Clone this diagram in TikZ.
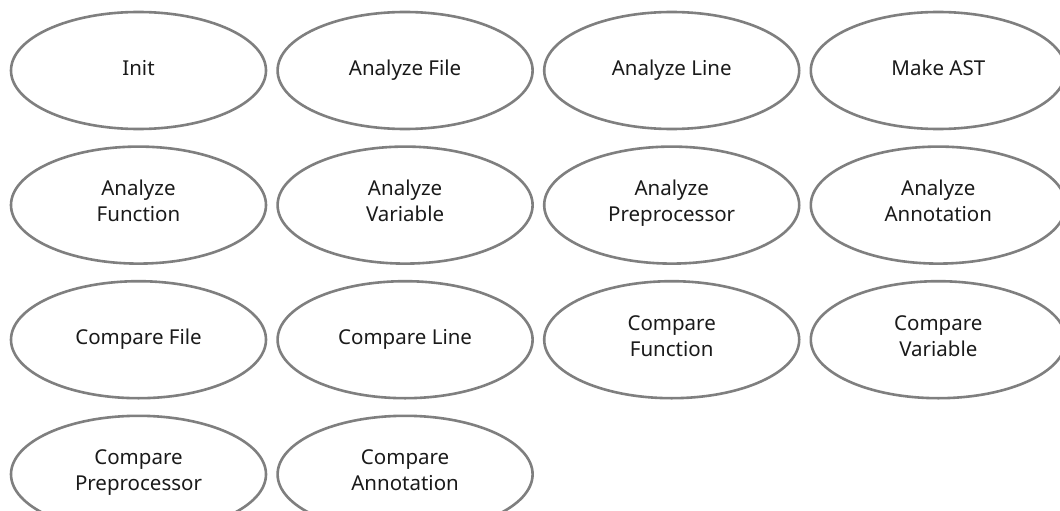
\documentclass[tikz,border=0pt]{standalone}
\usepackage{fontspec}
\setmainfont{Noto Sans}
\usetikzlibrary{positioning, shapes.geometric}
\definecolor{ovalGray}{HTML}{7F7F7F}
\definecolor{ovalText}{HTML}{1A1A1A}
\tikzset{
  oval/.style={ellipse, draw=ovalGray, line width=2.6pt, fill=white,
               align=center, text=ovalText, font=\fontsize{20.5}{26}\selectfont,
               minimum width=255pt, minimum height=117pt, inner sep=0pt,
               execute at begin node=\strut, execute at end node=\strut},
}

\begin{document}
\begin{tikzpicture}[node distance=15pt and 9pt]
    \useasboundingbox (0,0) rectangle (1060pt,-511pt);
    % row 1
    \node[oval] (init) at (138.5pt,-70.5pt) {Init};
    \node[oval, right=of init] (afile) {Analyze File};
    \node[oval, right=of afile] (aline) {Analyze Line};
    \node[oval, right=of aline] (ast) {Make AST};
    % row 2
    \node[oval, below=of init] (afunc) {Analyze\\Function};
    \node[oval, right=of afunc] (avar) {Analyze\\Variable};
    \node[oval, right=of avar] (aprep) {Analyze\\Preprocessor};
    \node[oval, right=of aprep] (aanno) {Analyze\\Annotation};
    % row 3
    \node[oval, below=of afunc] (cfile) {Compare File};
    \node[oval, right=of cfile] (cline) {Compare Line};
    \node[oval, right=of cline] (cfunc) {Compare\\Function};
    \node[oval, right=of cfunc] (cvar) {Compare\\Variable};
    % row 4
    \node[oval, below=of cfile] (cprep) {Compare\\Preprocessor};
    \node[oval, right=of cprep] (canno) {Compare\\Annotation};
\end{tikzpicture}
\end{document}
